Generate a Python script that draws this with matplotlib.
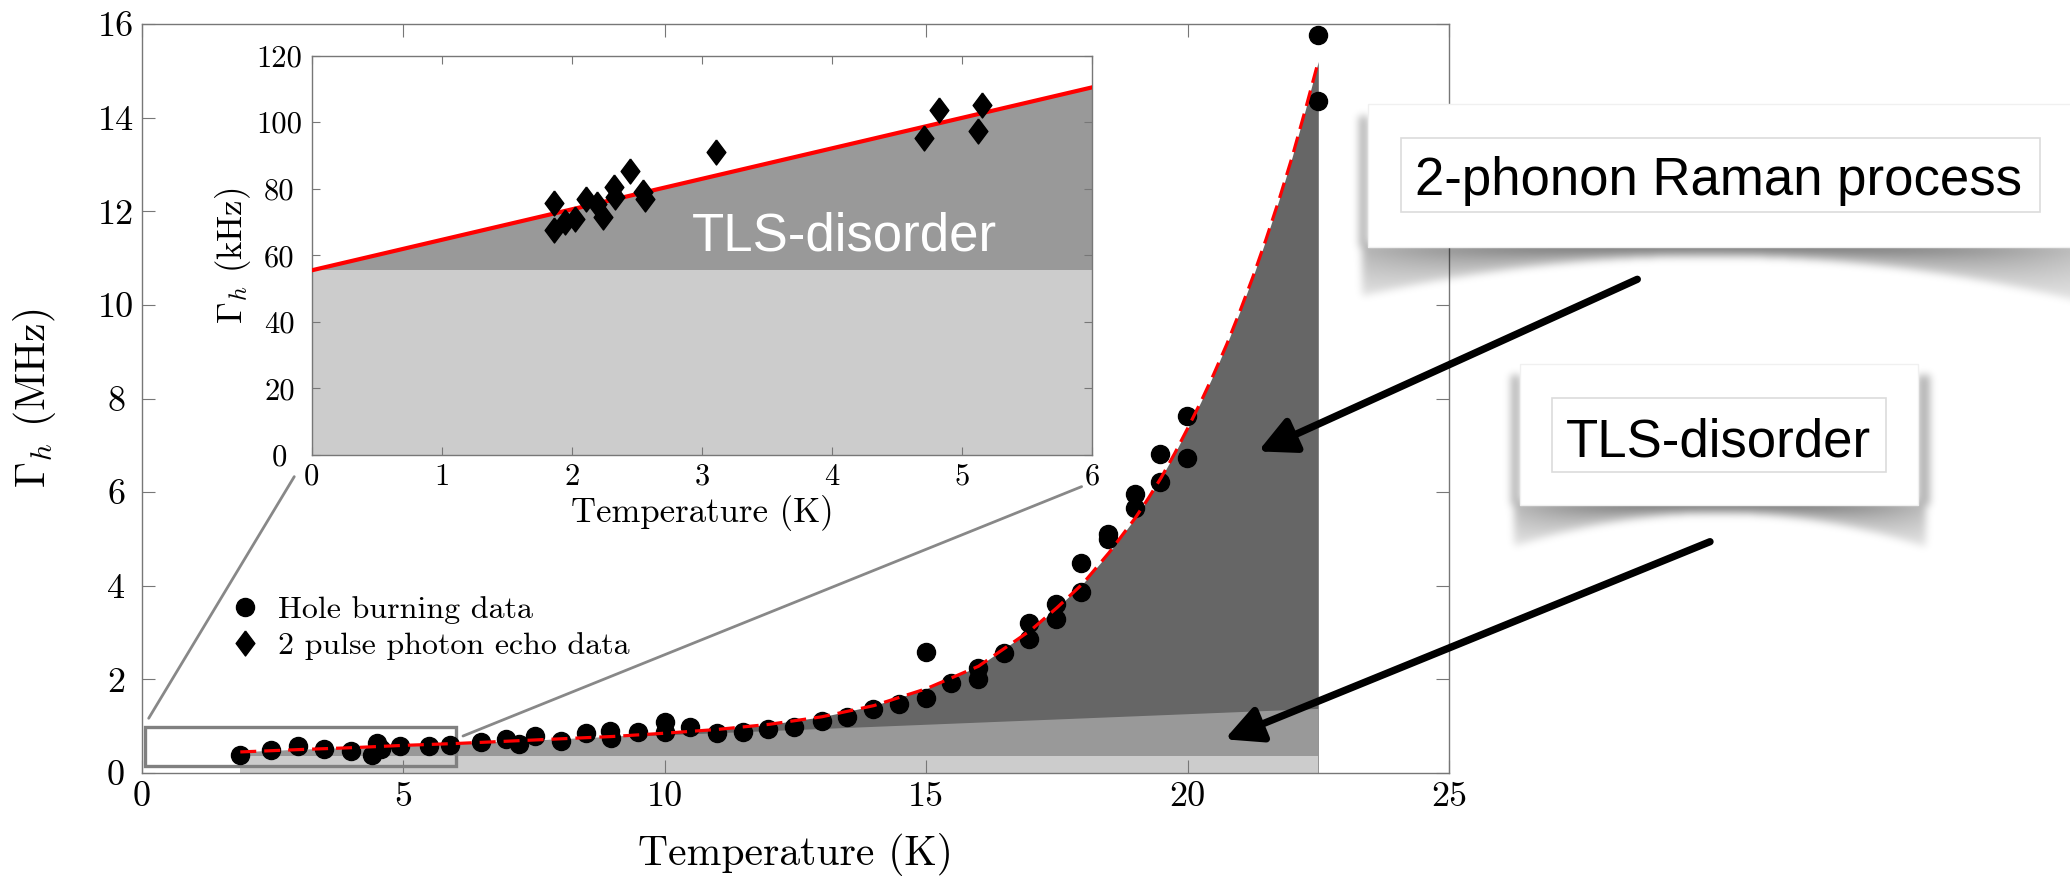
"""
Homogeneous linewidth vs temperature: hole burning + photon echo with fit regions
"""

import numpy as np
import matplotlib
matplotlib.use('Agg')
import matplotlib.pyplot as plt
from matplotlib.patches import Rectangle, ConnectionPatch

# ---- data ----
hb_temp = [1.88, 2.46, 2.98, 3.49, 3.99, 4.40, 4.50, 4.58, 4.93, 5.49, 5.89, 6.49,
           6.97, 7.22, 7.51, 8.02, 8.50, 8.95, 8.98, 9.49, 10.0, 10.0, 10.49, 10.99,
           11.5, 11.97, 12.48, 13.0, 13.49, 13.98, 14.48, 14.99, 14.99, 15.48, 15.99,
           15.99, 16.49, 16.97, 16.97, 17.48, 17.48, 17.97, 17.97, 18.48, 18.48, 18.99,
           18.99, 19.48, 19.48, 19.99, 19.99, 22.49, 22.49]
hb_width = [0.385, 0.49, 0.577, 0.506, 0.477, 0.385, 0.648, 0.506, 0.584, 0.58, 0.598,
            0.655, 0.72, 0.63, 0.78, 0.69, 0.85, 0.90, 0.74, 0.88, 1.10, 0.88, 0.98,
            0.85, 0.87, 0.95, 0.98, 1.12, 1.20, 1.36, 1.47, 1.60, 2.58, 1.92, 2.24,
            2.01, 2.56, 3.20, 2.86, 3.61, 3.29, 4.48, 3.86, 5.11, 4.99, 5.96, 5.67,
            6.82, 6.22, 7.63, 6.72, 15.77, 14.36]

echo_temp = [1.86, 1.86, 1.95, 2.02, 2.11, 2.19, 2.24, 2.32, 2.33, 2.45, 2.55, 2.56,
             3.11, 4.71, 4.82, 5.12, 5.15]
echo_width = [75.8, 67.7, 70.0, 71.0, 77.0, 75.3, 71.5, 80.5, 77.5, 85.2, 79.0, 77.0,
              91.2, 95.2, 103.8, 97.3, 105.2]

# fitted curve (TLS + 2-phonon Raman), MHz
fit_temp = [1.88, 3, 4, 5, 6, 7, 8, 9, 10, 11, 12, 13, 14, 15, 16, 17, 17.5, 18, 18.5,
            19, 19.25, 19.5, 19.75, 20, 20.25, 20.5, 20.75, 21, 21.25, 21.5, 21.75,
            22, 22.25, 22.5]
fit_width = [0.45, 0.50, 0.54, 0.59, 0.63, 0.68, 0.73, 0.78, 0.85, 0.93, 1.04, 1.20,
             1.44, 1.80, 2.28, 3.05, 3.53, 4.05, 4.71, 5.45, 5.87, 6.32, 6.82, 7.36,
             7.92, 8.52, 9.16, 9.86, 10.60, 11.40, 12.25, 13.16, 14.16, 15.20]

# TLS contribution (linear part) and constant offset, MHz
tls_temp = [1.88, 22.5]
tls_width = [0.45, 1.38]
tls_base = 0.363

# inset: TLS line in kHz
inset_temp = [0, 6]
inset_tls = [55.5, 110.5]
inset_base = 55.5

main_xticks = [0, 5, 10, 15, 20, 25]
main_yticks = [0, 2, 4, 6, 8, 10, 12, 14, 16]
inset_xticks = [0, 1, 2, 3, 4, 5, 6]
inset_yticks = [0, 20, 40, 60, 80, 100, 120]

# ---- style ----
plt.rcParams['font.family'] = 'cmr10'
plt.rcParams['mathtext.fontset'] = 'cm'
plt.rcParams['axes.formatter.use_mathtext'] = True

W, H = 2070, 877
DARK, MID, LIGHT = '#666666', '#999999', '#cccccc'
SPINE = '#777777'
SANS = ['Liberation Sans', 'DejaVu Sans']


def px_rect(left, top, right, bottom):
    return [left / W, 1 - bottom / H, (right - left) / W, (bottom - top) / H]


def blur(a, sigma):
    r = int(3 * sigma)
    k = np.exp(-0.5 * (np.arange(-r, r + 1) / sigma) ** 2)
    k /= k.sum()
    a = np.apply_along_axis(lambda v: np.convolve(v, k, mode='same'), 0, a)
    a = np.apply_along_axis(lambda v: np.convolve(v, k, mode='same'), 1, a)
    return a


def shadow_box(ax, x0, x1, y0, y1, xc, hw, h_mid, h_end):
    """white card with a curled-corner drop shadow (pixel coords)"""
    gx = np.arange(x0 - 30, x1 + 30)
    gy = np.arange(y0, y1 + h_end + 30)
    X, Y = np.meshgrid(gx + 0.5, gy + 0.5)
    t = np.clip((X - xc) / hw, -1.2, 1.2)
    h = h_mid + (h_end - h_mid) * t ** 2
    d = Y - y1
    a = (0.6 - 0.3 * t ** 2) * np.clip(1 - 0.6 * d / h, 0, 1)
    a = np.where((d > -4) & (d < h) & (X > x0 - 6) & (X < x1 + 8), a, 0)
    side = (Y > y0 + 12) & (Y <= y1) & (((X > x0 - 9) & (X < x0)) | ((X > x1) & (X < x1 + 12)))
    a = np.where(side, 0.3, a)
    a = blur(a, 4)
    img = np.zeros(a.shape + (4,))
    img[..., 3] = np.clip(a, 0, 1)
    ax.imshow(img, extent=(gx[0], gx[-1] + 1, gy[-1] + 1, gy[0]),
              aspect='auto', interpolation='bilinear', zorder=1)
    ax.add_patch(Rectangle((x0, y0), x1 - x0, y1 - y0, facecolor='white',
                           edgecolor='#f0f0f0', lw=1, zorder=2))


fig = plt.figure(figsize=(W / 100, H / 100), dpi=100)

# ---- main axes ----
ax = fig.add_axes(px_rect(142, 24, 1449, 773))
ax.fill_between(fit_temp, 0, fit_width, color=DARK, lw=0, zorder=1)
ax.fill_between(tls_temp, 0, tls_width, color=MID, lw=0, zorder=1.1)
ax.fill_between(tls_temp, 0, tls_base, color=LIGHT, lw=0, zorder=1.2)
ax.add_patch(Rectangle((0.065, 0.15), 5.95, 0.84, fill=False, edgecolor='#808080',
                       lw=2.4, zorder=2))
h_hb, = ax.plot(hb_temp, hb_width, 'o', color='black', ms=13, ls='none', zorder=4)
ax.plot(fit_temp, fit_width, color='red', lw=2.3, dashes=(5, 2.5), zorder=5)

ax.set_xlim(0, 25)
ax.set_ylim(0, 16)
ax.set_xticks(main_xticks)
ax.set_xticklabels([str(v) for v in main_xticks])
ax.set_yticks(main_yticks)
ax.set_yticklabels([str(v) for v in main_yticks])
ax.tick_params(direction='in', length=9.5, width=0.8, color=SPINE, top=True, right=True,
               labelsize=26)
ax.tick_params(axis='x', pad=6)
ax.tick_params(axis='y', pad=18.7)
for lab in ax.get_yticklabels():
    lab.set_horizontalalignment('center')
for s in ax.spines.values():
    s.set_color(SPINE)
    s.set_linewidth(1.0)
ax.set_xlabel('Temperature (K)', fontsize=30)
ax.set_ylabel(r'$\Gamma_h$ (MHz)', fontsize=30)
ax.xaxis.set_label_coords(0.5, -0.08)
ax.yaxis.set_label_coords(-0.064, 0.5)

# ---- inset ----
ax_in = fig.add_axes(px_rect(311.7, 55.7, 1092.3, 455))
ax_in.fill_between(inset_temp, 0, inset_tls, color=MID, lw=0, zorder=1)
ax_in.fill_between(inset_temp, 0, inset_base, color=LIGHT, lw=0, zorder=1.1)
ax_in.plot(inset_temp, inset_tls, color='red', lw=3, zorder=3)
diamond = [(0, 1), (0.75, 0), (0, -1), (-0.75, 0), (0, 1)]
h_echo, = ax_in.plot(echo_temp, echo_width, marker=diamond, color='black', ms=18,
                     ls='none', zorder=4)
ax_in.text(2.92, 61.6, 'TLS-disorder', color='white', fontsize=38, family=SANS,
           va='baseline', ha='left', zorder=5)
ax_in.set_xlim(0, 6)
ax_in.set_ylim(0, 120)
ax_in.set_xticks(inset_xticks)
ax_in.set_xticklabels([str(v) for v in inset_xticks])
ax_in.set_yticks(inset_yticks)
ax_in.set_yticklabels([str(v) for v in inset_yticks])
ax_in.tick_params(direction='in', length=6, width=0.8, color=SPINE, top=True, right=True,
                  labelsize=22)
ax_in.tick_params(axis='x', pad=6)
ax_in.tick_params(axis='y', pad=23.3)
for lab in ax_in.get_yticklabels():
    lab.set_horizontalalignment('center')
for s in ax_in.spines.values():
    s.set_color(SPINE)
    s.set_linewidth(1.0)
ax_in.set_xlabel('Temperature (K)', fontsize=25)
ax_in.set_ylabel(r'$\Gamma_h$ (kHz)', fontsize=25)
ax_in.xaxis.set_label_coords(0.5, -0.10)
ax_in.yaxis.set_label_coords(-0.075, 0.5)

# zoom connectors
for a_pt, b_pt in [((0.128, 1.169), (-0.134, -6.5)), ((6.14, 0.79), (5.918, -9.5))]:
    con = ConnectionPatch(xyA=a_pt, coordsA=ax.transData, xyB=b_pt, coordsB=ax_in.transData,
                          color='#888888', lw=2.0)
    fig.add_artist(con)

ax.legend([h_hb, h_echo], ['Hole burning data', '2 pulse photon echo data'],
          loc='center left', bbox_to_anchor=(0.0666, 0.1936), frameon=False, fontsize=23,
          handlelength=1.0, handletextpad=0.53, labelspacing=0.25, borderpad=0,
          borderaxespad=0, numpoints=1)

# arrows
arrow_kw = dict(arrowstyle='-|>,head_length=1.1,head_width=0.55', mutation_scale=20,
                lw=5.3, color='black', shrinkA=0, shrinkB=0)
ax.annotate('', xy=(21.35, 6.87), xytext=(1637.3 / W, 1 - 279.3 / H),
            textcoords='figure fraction', arrowprops=arrow_kw, annotation_clip=False)
ax.annotate('', xy=(20.71, 0.72), xytext=(1710 / W, 1 - 541.7 / H),
            textcoords='figure fraction', arrowprops=arrow_kw, annotation_clip=False)

# ---- callout cards (pixel coordinates) ----
deco = fig.add_axes([0, 0, 1, 1])
deco.set_axis_off()
shadow_box(deco, 1368, 2090, 104, 246.5, 1710, 350, 10, 50)
shadow_box(deco, 1520, 1918, 363.5, 505, 1719, 199, 9, 40)
deco.add_patch(Rectangle((1400.7, 138.3), 639.3, 73.4, facecolor='white',
                         edgecolor='#dcdcdc', lw=1.2, zorder=3))
deco.add_patch(Rectangle((1551.7, 398.3), 334.3, 73.4, facecolor='white',
                         edgecolor='#dcdcdc', lw=1.2, zorder=3))
deco.text(1718.5, 195, '2-phonon Raman process', fontsize=38, family=SANS,
          ha='center', va='baseline', zorder=4)
deco.text(1718.5, 456.7, 'TLS-disorder', fontsize=38, family=SANS,
          ha='center', va='baseline', zorder=4)
deco.set_xlim(0, W)
deco.set_ylim(H, 0)

fig.savefig('out.png', dpi=100)
